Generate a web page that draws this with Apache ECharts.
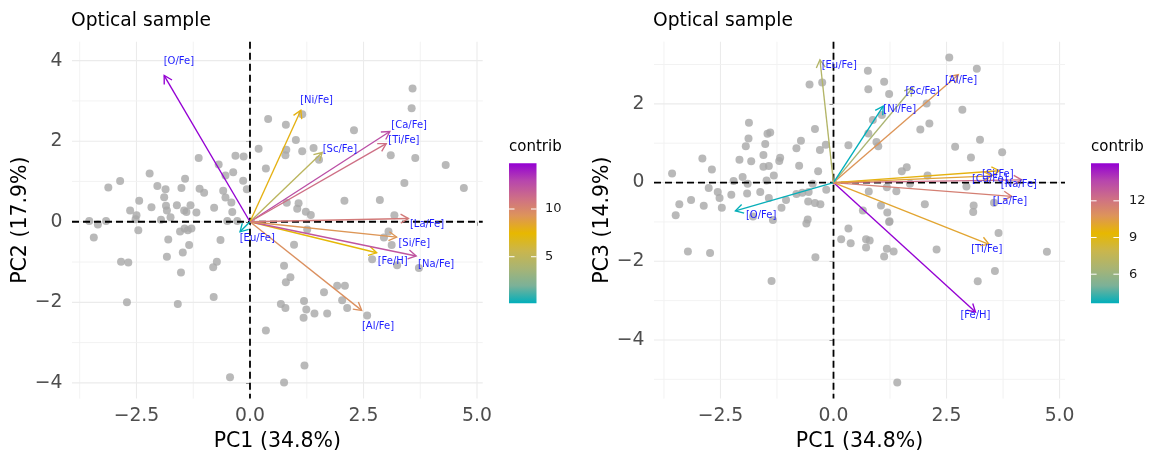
<!DOCTYPE html>
<html>
<head>
<meta charset="utf-8">
<script src="https://cdn.jsdelivr.net/npm/echarts@6/dist/echarts.min.js"></script>
<style>
  html, body { margin: 0; padding: 0; background: #ffffff; }
  #chart { width: 1149px; height: 457px; }
</style>
</head>
<body>
<div id="chart"></div>
<script>
// ---- Data -------------------------------------------------------------
const variables = ['[Fe/H]', '[O/Fe]', '[Na/Fe]', '[Al/Fe]', '[Si/Fe]', '[Ca/Fe]',
                   '[Sc/Fe]', '[Ti/Fe]', '[Ni/Fe]', '[La/Fe]', '[Eu/Fe]'];

// Variable coordinates (arrow tips) and contributions, PC1 vs PC2
const loadingsPC12 = [[2.79, -0.77], [-1.89, 3.63], [3.66, -0.85], [2.46, -2.20], [3.23, -0.38], [3.08, 2.24],
                      [1.59, 1.72], [3.00, 1.94], [1.12, 2.77], [3.49, 0.08], [-0.22, -0.25]];
const contribPC12 = [7.3, 14.79, 12.3, 9.5, 9.2, 12.6, 4.8, 11.1, 7.8, 10.6, 0.12];

// Variable coordinates (arrow tips) and contributions, PC1 vs PC3
const loadingsPC13 = [[3.14, -3.29], [-2.17, -0.72], [4.16, 0.07], [2.76, 2.74], [3.67, 0.30], [3.50, 0.17],
                      [1.75, 2.41], [3.44, -1.57], [1.10, 1.94], [3.94, -0.35], [-0.30, 3.12]];
const contribPC13 = [15.07, 3.70, 12.25, 10.74, 9.6, 10.2, 6.58, 10.12, 3.62, 11.6, 6.95];

// Individual scores, PC1 vs PC2
const scoresPC12 = [
  [3.58, 3.31], [3.56, 2.82], [1.15, 2.67], [0.40, 2.55], [0.79, 2.41], [2.29, 2.27], [1.01, 2.03], [0.19, 1.81],
  [1.40, 1.83], [0.80, 1.79], [1.15, 1.75], [0.78, 1.65], [1.52, 1.54], [3.10, 1.65], [3.64, 1.58], [4.31, 1.41],
  [0.35, 1.32], [3.40, 0.96], [4.71, 0.84], [2.08, 0.52], [2.86, 0.54], [1.07, 0.46], [0.81, 0.47], [1.04, 0.32],
  [1.23, 0.25], [1.34, 0.17], [3.18, 0.16], [-1.13, 1.58], [-0.32, 1.64], [-0.14, 1.62], [-0.69, 1.42], [-0.54, 1.15],
  [-0.37, 1.23], [-0.15, 1.02], [-0.07, 0.81], [-2.21, 1.20], [-2.86, 1.01], [-3.12, 0.85], [-1.43, 1.07], [-2.04, 0.89],
  [-1.86, 0.81], [-1.51, 0.84], [-1.11, 0.82], [-1.01, 0.72], [-0.59, 0.77], [-1.89, 0.61], [-0.54, 0.60], [-0.41, 0.48],
  [-2.44, 0.52], [-2.17, 0.36], [-1.85, 0.40], [-1.83, 0.28], [-1.61, 0.41], [-1.31, 0.41], [-1.45, 0.28], [-1.40, 0.24],
  [-1.18, 0.23], [-0.79, 0.35], [-0.39, 0.24], [-2.64, 0.28], [-2.50, 0.16], [-1.75, 0.11], [-3.54, 0.02], [-3.35, -0.07],
  [-3.17, 0.02], [-2.52, 0.06], [-1.96, 0.05], [-0.50, 0.02], [-0.28, 0.02], [-3.44, -0.39], [-2.46, -0.21], [-1.80, -0.44],
  [-1.54, -0.24], [-1.44, -0.17], [-1.37, -0.21], [-1.29, -0.17], [-0.65, -0.45], [-1.34, -0.58], [-1.48, -0.76], [-1.83, -0.87],
  [-0.73, -0.99], [-0.81, -1.13], [-2.84, -0.99], [-2.68, -1.01], [-1.52, -1.26], [-2.71, -2.00], [-1.59, -2.04], [-0.80, -1.87],
  [-0.44, -3.86], [1.26, -0.19], [0.97, -0.57], [3.05, -0.24], [2.95, -0.39], [3.12, -0.58], [2.69, -0.93], [3.24, -1.08],
  [3.72, -1.15], [0.75, -1.09], [0.89, -1.38], [0.79, -1.50], [1.63, -1.75], [1.92, -1.59], [2.09, -1.59], [2.03, -1.95],
  [2.14, -2.14], [1.19, -1.97], [1.24, -2.18], [1.18, -2.38], [1.42, -2.28], [1.70, -2.28], [0.68, -2.04], [0.78, -2.14],
  [2.58, -2.33], [0.35, -2.70], [1.20, -3.57], [0.75, -3.99]
];

// Individual scores, PC1 vs PC3
const scoresPC13 = [
  [2.56, 3.18], [3.17, 2.89], [0.76, 2.84], [-0.53, 2.49], [-0.25, 2.54], [1.12, 2.56], [0.77, 2.37], [1.23, 2.25],
  [2.06, 2.01], [2.85, 1.85], [1.07, 1.72], [0.87, 1.59], [2.12, 1.50], [1.92, 1.35], [0.77, 1.25], [0.95, 1.03],
  [0.99, 0.92], [2.69, 0.91], [3.24, 1.09], [3.04, 0.64], [3.73, 0.77], [0.33, 0.95], [1.51, 0.29], [1.62, 0.39],
  [2.08, 0.18], [1.69, -0.03], [2.94, -0.10], [0.78, -0.23], [1.18, -0.12], [1.39, -0.22], [2.02, -0.55], [3.10, -0.58],
  [3.09, -0.75], [3.55, -0.51], [1.05, -0.58], [1.19, -0.76], [1.24, -0.98], [0.65, -0.71], [-0.41, 1.36], [-0.17, 0.96],
  [-0.30, 0.83], [-0.34, 0.29], [-0.72, 1.06], [-0.82, 0.87], [-0.76, 0.43], [-1.87, 1.52], [-1.88, 1.12], [-1.94, 0.92],
  [-1.46, 1.24], [-1.40, 1.27], [-1.51, 0.98], [-1.55, 0.70], [-1.82, 0.54], [-2.08, 0.58], [-1.55, 0.40], [-1.43, 0.42],
  [-1.20, 0.55], [-1.18, 0.63], [-1.32, 0.18], [-2.01, 0.14], [-2.21, 0.04], [-2.90, 0.61], [-2.69, 0.33], [-3.57, 0.23],
  [-2.76, -0.14], [-2.56, -0.24], [-2.52, -0.39], [-2.47, -0.64], [-2.26, -0.31], [-1.90, -0.03], [-1.91, -0.28], [-1.62, -0.24],
  [-1.48, 0.05], [-1.43, -0.39], [-1.15, -0.64], [-1.05, -0.44], [-0.82, -0.29], [-0.69, -0.26], [-0.55, -0.24], [-0.46, -0.03],
  [-0.56, -0.48], [-0.41, -0.52], [-0.29, -0.55], [-0.16, -0.18], [-3.15, -0.44], [-2.87, -0.59], [-3.41, -0.55], [-3.49, -0.83],
  [-1.78, -0.86], [-1.34, -0.95], [-0.57, -0.94], [-0.60, -1.04], [-3.22, -1.75], [-2.73, -1.79], [-1.37, -2.50], [-0.40, -1.90],
  [0.33, -1.17], [0.17, -1.44], [0.38, -1.54], [0.72, -1.44], [0.80, -1.47], [0.72, -1.65], [1.23, -1.00], [1.18, -1.68],
  [1.33, -1.75], [1.12, -1.88], [2.28, -1.70], [3.65, -1.28], [3.57, -2.25], [3.19, -2.51], [4.72, -1.76], [1.41, -5.08]
];

// Axis breaks (labelled) and minor grid positions
const pc1Breaks = [-2.5, 0, 2.5, 5];
const pc1Minor = [-3.75, -1.25, 1.25, 3.75];
const pc2Breaks = [-4, -2, 0, 2, 4];
const pc2Minor = [-3, -1, 1, 3];
const pc3Breaks = [-4, -2, 0, 2];
const pc3Minor = [-5, -3, -1, 1, 3];
const contribBreaksPC12 = [5, 10];
const contribBreaksPC13 = [6, 9, 12];

// ---- Styling / layout -------------------------------------------------
const FONT = '"DejaVu Sans", "Liberation Sans", Arial, sans-serif';
// gradient teal -> gold -> violet (intermediate stops approximate Lab blending)
const gradientCols = ['#00AFBB', '#7BB198', '#A8B474', '#CAB64C', '#E7B800',
                      '#DD945A', '#CE6F86', '#B746AD', '#9400D3'];

const panels = [
  {
    title: 'Optical sample', xName: 'PC1 (34.8%)', yName: 'PC2 (17.9%)',
    grid: { left: 72, top: 41.7, width: 410.7, height: 360 },
    xRange: [-3.92, 5.125], yRange: [-4.39, 4.47],
    xBreaks: pc1Breaks, xMinor: pc1Minor, yBreaks: pc2Breaks, yMinor: pc2Minor,
    scores: scoresPC12, loadings: loadingsPC12, contrib: contribPC12, contribBreaks: contribBreaksPC12,
    // label offsets from arrow tips, in pixels
    labelOffsets: [[16, 8.6], [14.7, -14.3], [20, 8.3], [16.3, 15.6], [17.6, 6.6], [19.3, -6.6],
                   [17.7, -3], [17.7, -3], [15.7, -10], [18.6, 5.7], [17.3, 7]],
    legend: { x: 509, titleY: 147.5, barTop: 163.3, barHeight: 140, barWidth: 27.5, labelX: 545 }
  },
  {
    title: 'Optical sample', xName: 'PC1 (34.8%)', yName: 'PC3 (14.9%)',
    grid: { left: 654, top: 41.7, width: 411, height: 360 },
    xRange: [-3.97, 5.12], yRange: [-5.49, 3.58],
    xBreaks: pc1Breaks, xMinor: pc1Minor, yBreaks: pc3Breaks, yMinor: pc3Minor,
    scores: scoresPC13, loadings: loadingsPC13, contrib: contribPC13, contribBreaks: contribBreaksPC13,
    labelOffsets: [[0, 3.4], [25.7, 4.7], [-2.7, 4.7], [2.7, 5.3], [-1.6, 4], [-2, 4],
                   [10, 3.7], [-2.3, 4.7], [16.4, 3.3], [-1.7, 4.6], [19.3, 5.3]],
    legend: { x: 1091, titleY: 147.5, barTop: 163.3, barHeight: 140, barWidth: 28, labelX: 1129 }
  }
];

const fmtX = v => (Math.abs(v) < 1e-9 ? '0.0' : v.toFixed(1)).replace('-', '\u2212');
const fmtY = v => String(v).replace('-', '\u2212');

// ---- Render helpers ---------------------------------------------------
function renderGridLine(params, api) {
  const cs = params.coordSys;
  const v = api.value(0), dir = api.value(1), major = api.value(2);
  const style = { stroke: major ? '#EBEBEB' : '#F0F0F0', lineWidth: major ? 1.1 : 0.9 };
  if (dir === 0) {
    const x = api.coord([v, 0])[0];
    return { type: 'line', shape: { x1: x, y1: cs.y, x2: x, y2: cs.y + cs.height }, style };
  }
  const y = api.coord([0, v])[1];
  return { type: 'line', shape: { x1: cs.x, y1: y, x2: cs.x + cs.width, y2: y }, style };
}

function renderZeroLine(params, api) {
  const cs = params.coordSys;
  const dir = api.value(1);
  const style = { stroke: '#000000', lineWidth: 1.8, lineDash: [7, 4] };
  if (dir === 0) {
    const x = api.coord([0, 0])[0];
    return { type: 'line', shape: { x1: x, y1: cs.y, x2: x, y2: cs.y + cs.height }, style };
  }
  const y = api.coord([0, 0])[1];
  return { type: 'line', shape: { x1: cs.x, y1: y, x2: cs.x + cs.width, y2: y }, style };
}

function renderArrow(params, api) {
  const o = api.coord([0, 0]);
  const t = api.coord([api.value(0), api.value(1)]);
  const color = api.visual('color');
  const ang = Math.atan2(t[1] - o[1], t[0] - o[0]);
  const L = 9, a = Math.PI / 6;
  const h1 = [t[0] - L * Math.cos(ang - a), t[1] - L * Math.sin(ang - a)];
  const h2 = [t[0] - L * Math.cos(ang + a), t[1] - L * Math.sin(ang + a)];
  return {
    type: 'group',
    children: [
      { type: 'line', shape: { x1: o[0], y1: o[1], x2: t[0], y2: t[1] },
        style: { stroke: color, lineWidth: 1.35 } },
      { type: 'polyline', shape: { points: [h1, t, h2] },
        style: { stroke: color, lineWidth: 1.35, fill: null } }
    ]
  };
}

function makeLabelRenderer(offsets) {
  return function (params, api) {
    const t = api.coord([api.value(0), api.value(1)]);
    const off = offsets[params.dataIndex];
    return {
      type: 'text',
      x: t[0] + off[0],
      y: t[1] + off[1],
      style: {
        text: variables[params.dataIndex],
        fill: '#1E1EFF',
        fontSize: 10,
        fontFamily: FONT,
        align: 'center',
        verticalAlign: 'middle'
      }
    };
  };
}

function legendElements(cfg, values, breaks) {
  const min = Math.min(...values), max = Math.max(...values);
  const toY = v => cfg.barTop + (max - v) / (max - min) * cfg.barHeight;
  const stops = gradientCols.slice().reverse().map((c, i, arr) => ({ offset: i / (arr.length - 1), color: c }));
  const els = [
    { type: 'text', x: cfg.x, y: cfg.titleY,
      style: { text: 'contrib', fontSize: 15, fontFamily: FONT, fill: '#000000', verticalAlign: 'middle' } },
    { type: 'rect', shape: { x: cfg.x, y: cfg.barTop, width: cfg.barWidth, height: cfg.barHeight },
      style: { fill: new echarts.graphic.LinearGradient(0, 0, 0, 1, stops) } }
  ];
  const tl = cfg.barWidth / 5;
  breaks.forEach(b => {
    const y = toY(b);
    els.push({ type: 'line', shape: { x1: cfg.x, y1: y, x2: cfg.x + tl, y2: y },
               style: { stroke: '#ffffff', lineWidth: 1 } });
    els.push({ type: 'line', shape: { x1: cfg.x + cfg.barWidth - tl, y1: y, x2: cfg.x + cfg.barWidth, y2: y },
               style: { stroke: '#ffffff', lineWidth: 1 } });
    els.push({ type: 'text', x: cfg.labelX, y: y,
               style: { text: String(b), fontSize: 13, fontFamily: FONT, fill: '#1A1A1A', verticalAlign: 'middle' } });
  });
  return els;
}

// ---- Option -----------------------------------------------------------
const option = {
  animation: false,
  backgroundColor: '#ffffff',
  title: [], grid: [], xAxis: [], yAxis: [], series: [], visualMap: [], graphic: []
};

panels.forEach((p, i) => {
  option.title.push({
    text: p.title, left: p.grid.left - 1, top: 11.5, padding: 0,
    textStyle: { fontSize: 18.7, fontWeight: 'normal', color: '#000000', fontFamily: FONT }
  });
  option.grid.push(Object.assign({ containLabel: false }, p.grid));
  option.xAxis.push({
    gridIndex: i, type: 'value', min: p.xRange[0], max: p.xRange[1],
    axisLine: { show: false },
    axisTick: { show: true, customValues: p.xBreaks, length: 4, lineStyle: { color: '#333333', width: 1 } },
    axisLabel: { customValues: p.xBreaks, formatter: fmtX, fontSize: 18.8, color: '#4D4D4D', margin: 8.5, fontFamily: FONT },
    splitLine: { show: false },
    name: p.xName, nameLocation: 'middle', nameGap: 31.5,
    nameTextStyle: { fontSize: 20.5, color: '#000000', fontFamily: FONT }
  });
  option.yAxis.push({
    gridIndex: i, type: 'value', min: p.yRange[0], max: p.yRange[1],
    axisLine: { show: false },
    axisTick: { show: true, customValues: p.yBreaks, length: 4, lineStyle: { color: '#333333', width: 1 } },
    axisLabel: { customValues: p.yBreaks, formatter: fmtY, fontSize: 18.8, color: '#4D4D4D', margin: 9.5, fontFamily: FONT },
    splitLine: { show: false },
    name: p.yName, nameLocation: 'middle', nameGap: 38, nameRotate: 90,
    nameTextStyle: { fontSize: 20.5, color: '#000000', fontFamily: FONT }
  });

  const gridData = []
    .concat(p.xBreaks.map(v => [v, 0, 1]))
    .concat(p.xMinor.map(v => [v, 0, 0]))
    .concat(p.yBreaks.map(v => [v, 1, 1]))
    .concat(p.yMinor.map(v => [v, 1, 0]));

  option.series.push({
    type: 'custom', xAxisIndex: i, yAxisIndex: i, silent: true, z: 1,
    renderItem: renderGridLine, data: gridData
  });
  option.series.push({
    type: 'scatter', xAxisIndex: i, yAxisIndex: i, silent: true, z: 2,
    symbol: 'circle', symbolSize: 8,
    itemStyle: { color: '#A8A8A8' },
    data: p.scores
  });
  option.series.push({
    type: 'custom', xAxisIndex: i, yAxisIndex: i, silent: true, z: 3,
    renderItem: renderZeroLine, data: [[0, 0], [0, 1]]
  });
  const arrowData = p.loadings.map((c, k) => ({ name: variables[k], value: [c[0], c[1], p.contrib[k]] }));
  const arrowSeriesIndex = option.series.length;
  option.series.push({
    type: 'custom', xAxisIndex: i, yAxisIndex: i, silent: true, z: 4,
    renderItem: renderArrow, data: arrowData
  });
  option.series.push({
    type: 'custom', xAxisIndex: i, yAxisIndex: i, silent: true, z: 5,
    renderItem: makeLabelRenderer(p.labelOffsets), data: arrowData
  });
  option.visualMap.push({
    show: false, type: 'continuous', seriesIndex: arrowSeriesIndex, dimension: 2,
    min: Math.min(...p.contrib), max: Math.max(...p.contrib),
    inRange: { color: gradientCols }
  });
  option.graphic.push(...legendElements(p.legend, p.contrib, p.contribBreaks));
});

const chart = echarts.init(document.getElementById('chart'), null, { renderer: 'canvas' });
chart.setOption(option);
</script>
</body>
</html>
